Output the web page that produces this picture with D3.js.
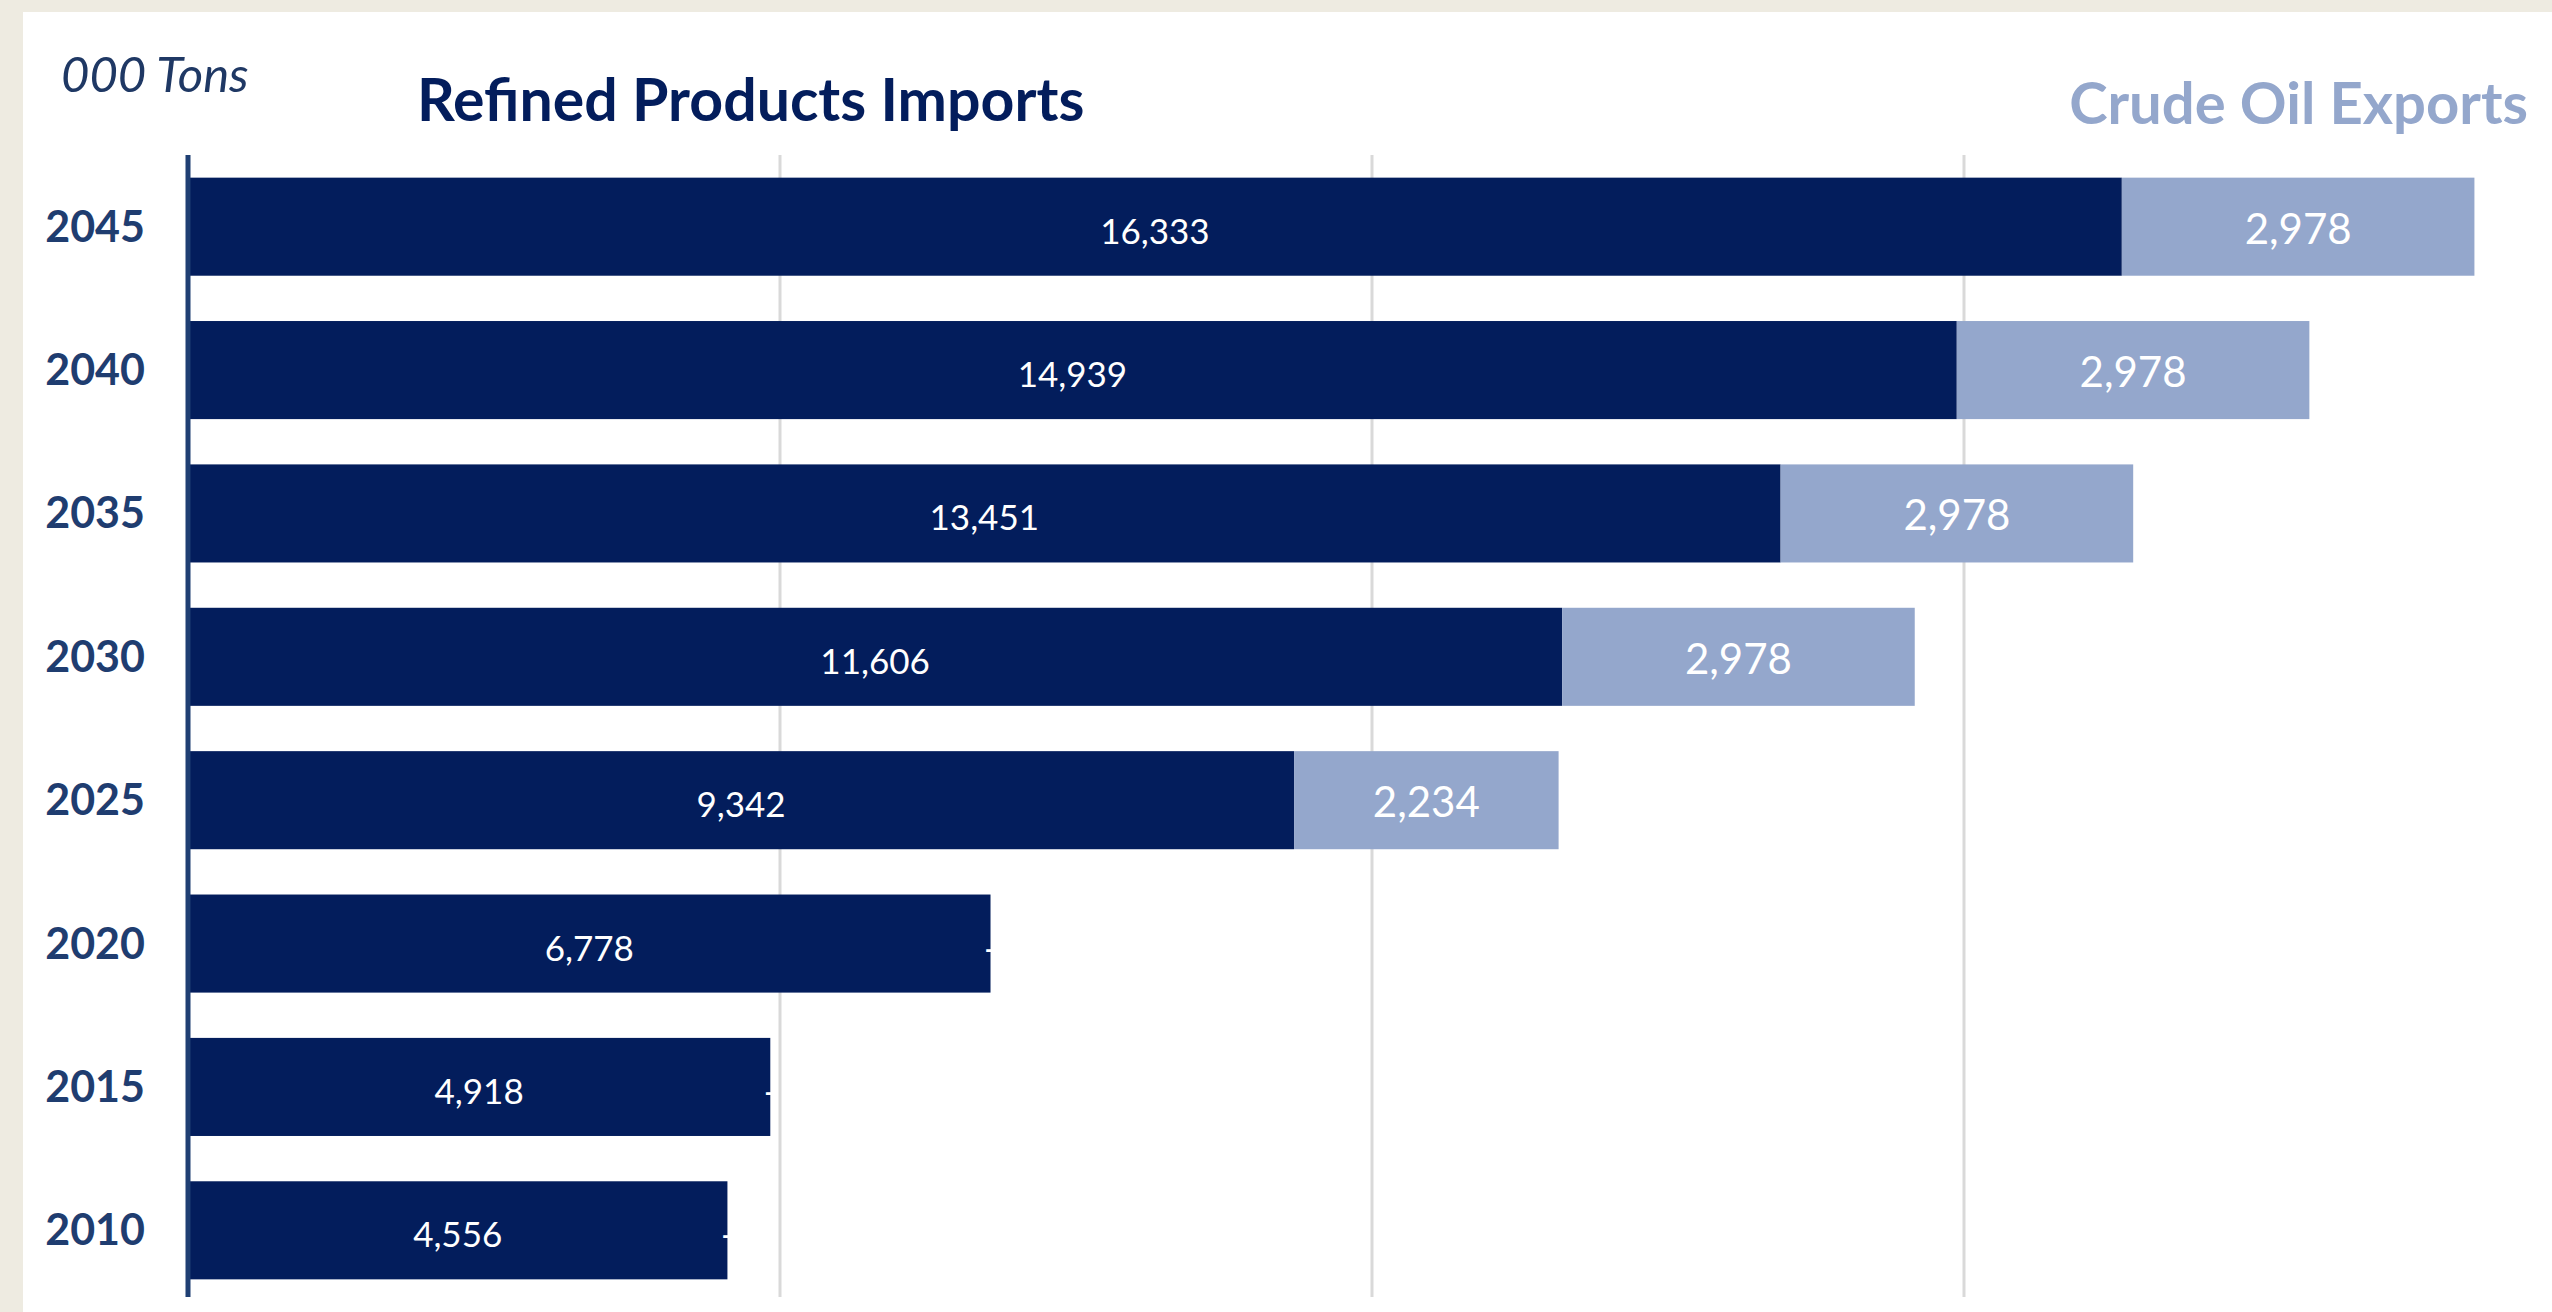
<!DOCTYPE html>
<html>
<head>
<meta charset="utf-8">
<script src="https://cdn.jsdelivr.net/npm/d3@7"></script>
<style>
  html, body { margin: 0; padding: 0; background: #EEEBE1; overflow: hidden; }
  svg { display: block; }
  text { font-family: Lato, "Open Sans", sans-serif; }
</style>
</head>
<body>
<div id="chart"></div>
<script>
// Values (000 tons)
const years = ["2045", "2040", "2035", "2030", "2025", "2020", "2015", "2010"];
const refinedImports = [16333, 14939, 13451, 11606, 9342, 6778, 4918, 4556];
const crudeExports = [2978, 2978, 2978, 2978, 2234, 0, 0, 0];
const gridTicks = [5000, 10000, 15000];
const seriesNames = ["Refined Products Imports", "Crude Oil Exports"];
const unitLabel = "000 Tons";

const width = 2552;
const height = 1312;

const colours = {
    page: "#EEEBE1",
    panel: "#FFFFFF",
    imports: "#031D5C",
    exports: "#94A7CC",
    grid: "#D9D9D9",
    axis: "#1F3F73",
    year: "#1F3D70",
    unit: "#1F3864"
};

const svg = d3.select("#chart")
    .append("svg")
    .attr("width", width)
    .attr("height", height);

// white card on the beige page
svg.append("rect")
    .attr("x", 23)
    .attr("y", 12)
    .attr("width", width - 23)
    .attr("height", height - 12)
    .attr("fill", colours.panel);

const x = d3.scaleLinear()
    .domain([0, 20000])
    .range([188, 188 + 2368]);

const y = d3.scaleBand()
    .domain(years)
    .range([155, 1302])
    .paddingInner(0.316)
    .paddingOuter(0.158);

// vertical gridlines
svg.append("g")
    .selectAll("line")
    .data(gridTicks)
    .join("line")
    .attr("x1", d => x(d))
    .attr("x2", d => x(d))
    .attr("y1", 155)
    .attr("y2", 1297)
    .attr("stroke", colours.grid)
    .attr("stroke-width", 3);

const rows = years.map((yr, i) => ({
    year: yr,
    imports: refinedImports[i],
    exports: crudeExports[i]
}));

// Excel-style format: zero shows as a dash
const fmt = v => v === 0 ? "-" : d3.format(",")(v);

// dark segment: refined products imports
svg.append("g")
    .selectAll("rect")
    .data(rows)
    .join("rect")
    .attr("x", x(0))
    .attr("y", d => y(d.year))
    .attr("width", d => x(d.imports) - x(0))
    .attr("height", y.bandwidth())
    .attr("fill", colours.imports);

// light segment: crude oil exports, stacked on the right
svg.append("g")
    .selectAll("rect")
    .data(rows.filter(d => d.exports > 0))
    .join("rect")
    .attr("x", d => x(d.imports))
    .attr("y", d => y(d.year))
    .attr("width", d => x(d.imports + d.exports) - x(d.imports))
    .attr("height", y.bandwidth())
    .attr("fill", colours.exports);

// value labels
svg.append("g")
    .selectAll("text")
    .data(rows)
    .join("text")
    .attr("x", d => (x(0) + x(d.imports)) / 2)
    .attr("y", d => y(d.year) + y.bandwidth() / 2 + 17)
    .attr("text-anchor", "middle")
    .attr("fill", "#FFFFFF")
    .attr("font-size", 35)
    .text(d => fmt(d.imports));

svg.append("g")
    .selectAll("text")
    .data(rows)
    .join("text")
    .attr("x", d => (x(d.imports) + x(d.imports + d.exports)) / 2)
    .attr("y", d => y(d.year) + y.bandwidth() / 2 + 17)
    .attr("text-anchor", "middle")
    .attr("fill", "#FFFFFF")
    .attr("font-size", d => d.exports === 0 ? 35 : 42)
    .text(d => fmt(d.exports));

// year axis
svg.append("line")
    .attr("x1", x(0))
    .attr("x2", x(0))
    .attr("y1", 155)
    .attr("y2", 1297)
    .attr("stroke", colours.axis)
    .attr("stroke-width", 5);

svg.append("g")
    .selectAll("text")
    .data(years)
    .join("text")
    .attr("x", 145)
    .attr("y", d => y(d) + y.bandwidth() / 2 + 15)
    .attr("text-anchor", "end")
    .attr("font-weight", 700)
    .attr("font-size", 43)
    .attr("fill", colours.year)
    .text(d => d);

// headers
svg.append("text")
    .attr("x", 61)
    .attr("y", 92)
    .attr("font-style", "italic")
    .attr("font-size", 49)
    .attr("fill", colours.unit)
    .text(unitLabel);

svg.append("text")
    .attr("x", 417)
    .attr("y", 121)
    .attr("font-weight", 700)
    .attr("font-size", 59)
    .attr("fill", colours.imports)
    .text(seriesNames[0]);

svg.append("text")
    .attr("x", 2528)
    .attr("y", 124)
    .attr("text-anchor", "end")
    .attr("font-weight", 700)
    .attr("font-size", 58)
    .attr("fill", colours.exports)
    .text(seriesNames[1]);
</script>
</body>
</html>
